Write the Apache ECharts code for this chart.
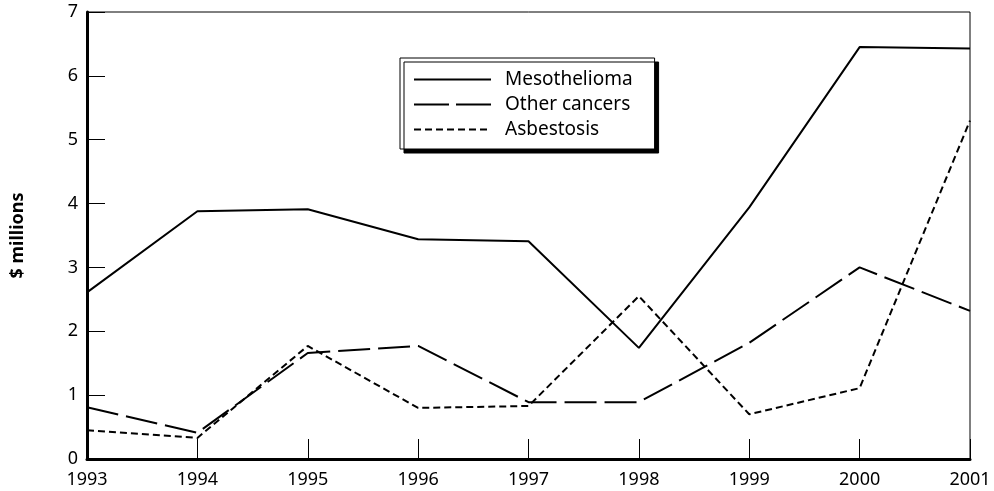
<!DOCTYPE html>
<html>
<head>
<meta charset="utf-8">
<script src="https://cdn.jsdelivr.net/npm/echarts@6/dist/echarts.min.js"></script>
<style>
  html, body { margin: 0; padding: 0; background: #fff; }
  #chart { width: 994px; height: 491px; }
</style>
</head>
<body>
<div id="chart"></div>
<script>
const years = ['1993', '1994', '1995', '1996', '1997', '1998', '1999', '2000', '2001'];
const mesothelioma = [2.61, 3.88, 3.91, 3.44, 3.41, 1.74, 3.94, 6.45, 6.43];
const otherCancers = [0.81, 0.41, 1.66, 1.77, 0.89, 0.89, 1.82, 3.0, 2.32];
const asbestosis = [0.45, 0.33, 1.77, 0.80, 0.83, 2.55, 0.70, 1.11, 5.3];

const font = '"Noto Sans", "Open Sans", sans-serif';
const dashLong = [32, 8];
const dashShort = [7, 4];

const chart = echarts.init(document.getElementById('chart'));

const mkSeries = (name, data, type) => ({
  name,
  type: 'line',
  data,
  symbol: 'none',
  animation: false,
  lineStyle: { color: '#000', width: 2, type },
  itemStyle: { color: '#000' },
});

chart.setOption({
  backgroundColor: '#fff',
  textStyle: { fontFamily: font },
  grid: {
    left: 87, right: 24, top: 12, bottom: 32,
    show: true, borderColor: '#000', borderWidth: 1, backgroundColor: 'transparent',
  },
  legend: {
    orient: 'vertical',
    left: 400,
    top: 58,
    padding: [12, 22, 10, 13],
    itemWidth: 77,
    itemHeight: 14,
    itemGap: 6,
    backgroundColor: '#fff',
    borderColor: '#000',
    borderWidth: 1,
    shadowColor: '#000',
    shadowBlur: 0,
    shadowOffsetX: 4,
    shadowOffsetY: 4,
    itemStyle: { opacity: 0 },
    textStyle: { fontSize: 19, color: '#000', fontFamily: font, padding: [0, 0, 0, 9] },
    data: [
      { name: 'Mesothelioma', lineStyle: { type: 'solid' } },
      { name: 'Other cancers', lineStyle: { type: [35, 7] } },
      { name: 'Asbestosis', lineStyle: { type: dashShort } },
    ],
  },
  xAxis: {
    type: 'category',
    data: years,
    boundaryGap: false,
    axisLine: { lineStyle: { color: '#000', width: 3 } },
    axisTick: { inside: true, length: 20, lineStyle: { color: '#000', width: 1 } },
    axisLabel: { color: '#000', fontSize: 18, margin: 12, fontFamily: font },
    splitLine: { show: false },
  },
  yAxis: {
    type: 'value',
    min: 0,
    max: 7,
    interval: 1,
    name: '$ millions',
    nameLocation: 'middle',
    nameRotate: 90,
    nameGap: 60,
    nameTextStyle: { color: '#000', fontSize: 18, fontWeight: 'bold', fontFamily: font },
    axisLine: { show: true, lineStyle: { color: '#000', width: 3 } },
    axisTick: { show: true, inside: true, length: 18, lineStyle: { color: '#000', width: 1 } },
    axisLabel: { color: '#000', fontSize: 18, margin: 9, fontFamily: font },
    splitLine: { show: false },
  },
  series: [
    mkSeries('Mesothelioma', mesothelioma, 'solid'),
    mkSeries('Other cancers', otherCancers, dashLong),
    mkSeries('Asbestosis', asbestosis, dashShort),
  ],
});
</script>
</body>
</html>
